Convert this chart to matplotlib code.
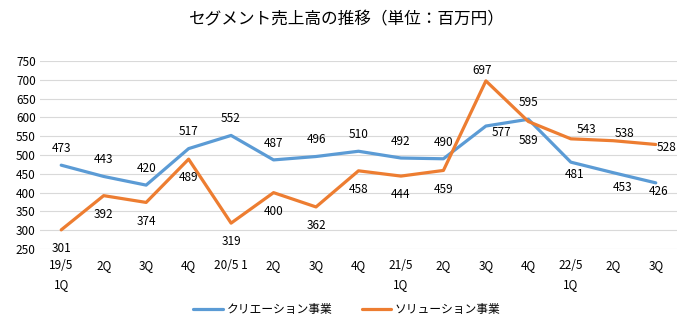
import matplotlib
matplotlib.use('Agg')
import matplotlib.pyplot as plt

plt.rcParams['font.family'] = ['Noto Sans CJK JP', 'DejaVu Sans']

# data
quarters = ['19/5\n1Q', '2Q', '3Q', '4Q', '20/5 1', '2Q', '3Q', '4Q',
            '21/5\n1Q', '2Q', '3Q', '4Q', '22/5\n1Q', '2Q', '3Q']
creation = [473, 443, 420, 517, 552, 487, 496, 510, 492, 490, 577, 595, 481, 453, 426]
solution = [301, 392, 374, 489, 319, 400, 362, 458, 444, 459, 697, 589, 543, 538, 528]
y_ticks = [250, 300, 350, 400, 450, 500, 550, 600, 650, 700, 750]

# label placement (offsets in points)
creation_pos = [(0, 12)] * 10 + [(11, -5), (0, 12), (3, -9), (6.5, -11), (2, -6.5)]
solution_pos = [(0, -13.5)] * 10 + [(-3, 7.5), (0, -14), (11, 7), (8, 5), (8, -2.5)]

blue = '#5B9BD5'
orange = '#ED7D31'

fig = plt.figure(figsize=(6.94, 3.33), dpi=100)
ax = fig.add_axes([0.0576, 0.252, 0.9179, 0.565])

x = list(range(len(quarters)))
ax.plot(x, creation, color=blue, lw=2.3, label='クリエーション事業', solid_capstyle='round')
ax.plot(x, solution, color=orange, lw=2.3, label='ソリューション事業', solid_capstyle='round')

for i in x:
    ax.annotate(str(creation[i]), (i, creation[i]), xytext=creation_pos[i],
                textcoords='offset points', ha='center', va='center', fontsize=8.5)
    ax.annotate(str(solution[i]), (i, solution[i]), xytext=solution_pos[i],
                textcoords='offset points', ha='center', va='center', fontsize=8.5)

ax.set_xlim(-0.5, len(quarters) - 0.5)
ax.set_ylim(250, 750)
ax.set_yticks(y_ticks)
ax.set_xticks(x)
ax.set_xticklabels(quarters, fontsize=8.5, linespacing=1.6)
ax.tick_params(axis='y', labelsize=8.5, length=0, pad=3)
ax.tick_params(axis='x', length=0, pad=7)
ax.grid(axis='y', color='#D9D9D9', lw=0.8)
ax.set_axisbelow(True)
for s in ax.spines.values():
    s.set_visible(False)

fig.text(0.5, 0.94, 'セグメント売上高の推移（単位：百万円）', ha='center', va='center', fontsize=12)
fig.legend(loc='center', bbox_to_anchor=(0.5, 0.07), ncol=2, frameon=False,
           fontsize=8.5, handlelength=2.5, columnspacing=2.5, handletextpad=0.3)

fig.savefig('out.png', dpi=100)
